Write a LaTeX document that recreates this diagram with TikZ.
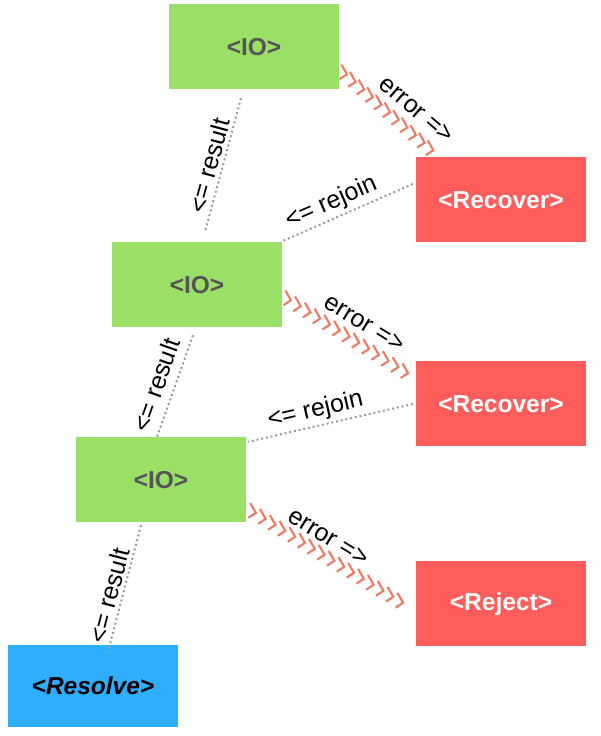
\documentclass[tikz,border=0pt]{standalone}
\usepackage{fontspec}
\setmainfont{Liberation Sans}
\usetikzlibrary{calc,decorations.markings}
\definecolor{iogreen}{HTML}{9BE066}
\definecolor{iotext}{HTML}{555555}
\definecolor{recred}{HTML}{FF5C5C}
\definecolor{resblue}{HTML}{2EAEFF}
\definecolor{dotgray}{HTML}{9A9A9A}
\definecolor{errc}{HTML}{EE7A62}
\begin{document}
\begin{tikzpicture}[x=1pt,y=1pt,
  box/.style={minimum width=170pt,minimum height=85pt,inner sep=0pt,font=\fontsize{24.5}{28}\selectfont\bfseries},
  io/.style={box,fill=iogreen,text=iotext},
  rec/.style={box,fill=recred,text=white},
  resbox/.style={box,minimum height=82pt,fill=resblue,text=black,font=\fontsize{24.5}{28}\selectfont\bfseries\itshape},
  okline/.style={draw=dotgray,line width=2pt,dash pattern=on 2pt off 2.8pt},
  errline/.style={decorate,decoration={markings,
     mark=between positions 0.03 and 1 step 11.5pt with {\draw[errc,line width=2.1pt,line join=miter,line cap=butt,rotate=#1] (-8.5pt,7.5pt)--(0pt,0pt)--(-5.5pt,-7pt);}}},
  lbl/.style={font=\fontsize{25}{29}\selectfont,sloped,above,inner sep=3pt,text=black}
]
\useasboundingbox (0,0) rectangle (600,736);
\node[io] (io1) at (254,689) {<IO>};
\node[rec] (rec1) at (501,536) {<Recover>};
\node[io] (io2) at (197,451) {<IO>};
\node[rec] (rec2) at (501,332) {<Recover>};
\node[io] (io3) at (161,256) {<IO>};
\node[rec] (rej) at (501,132) {<Reject>};
\node[resbox] (res) at (93,50) {<Resolve>};

% results
\draw[okline] ($(io1.south)+(-13,-8.5)$) -- node[lbl,pos=0.53] {<= result} ($(io2.north)+(8,10.5)$);
\draw[okline] ($(io2.south)+(-4,-7.5)$) -- node[lbl,pos=0.55,above=5pt] {<= result} ($(io3.north)+(-4,0.5)$);
\draw[okline] ($(io3.south)+(-20,-2.5)$) -- node[lbl,pos=0.58] {<= result} ($(res.north)+(15,-7)$);

% rejoins
\draw[okline] ($(rec1.west)+(-3,16)$) -- node[lbl,pos=0.58] {<= rejoin} ($(io2.north east)+(1,1.5)$);
\draw[okline] ($(rec2.west)+(-3,0)$) -- node[lbl,pos=0.57] {<= rejoin} ($(io3.north east)+(2,-4.5)$);

% errors
\path[errline=22] ($(io1.east)+(5,-25)$) -- ($(rec1.north)+(-66,5.5)$);
\path ($(io1.east)+(3,-25)$) -- node[lbl,pos=0.66,above=9pt] {error =>} ($(rec1.north)+(-66,5.5)$);
\path[errline=13] ($(io2.east)+(5,-13)$) -- ($(rec2.north west)+(-5,-13.5)$);
\path ($(io2.east)+(3,-13)$) -- node[lbl,pos=0.55,above=9pt] {error =>} ($(rec2.north west)+(-5,-13.5)$);
\path[errline=13] ($(io3.east)+(5,-30)$) -- ($(rej.west)+(-9,-1)$);
\path ($(io3.east)+(3,-30)$) -- node[lbl,pos=0.45,above=7pt] {error =>} ($(rej.west)+(-11,-1)$);
\end{tikzpicture}
\end{document}
